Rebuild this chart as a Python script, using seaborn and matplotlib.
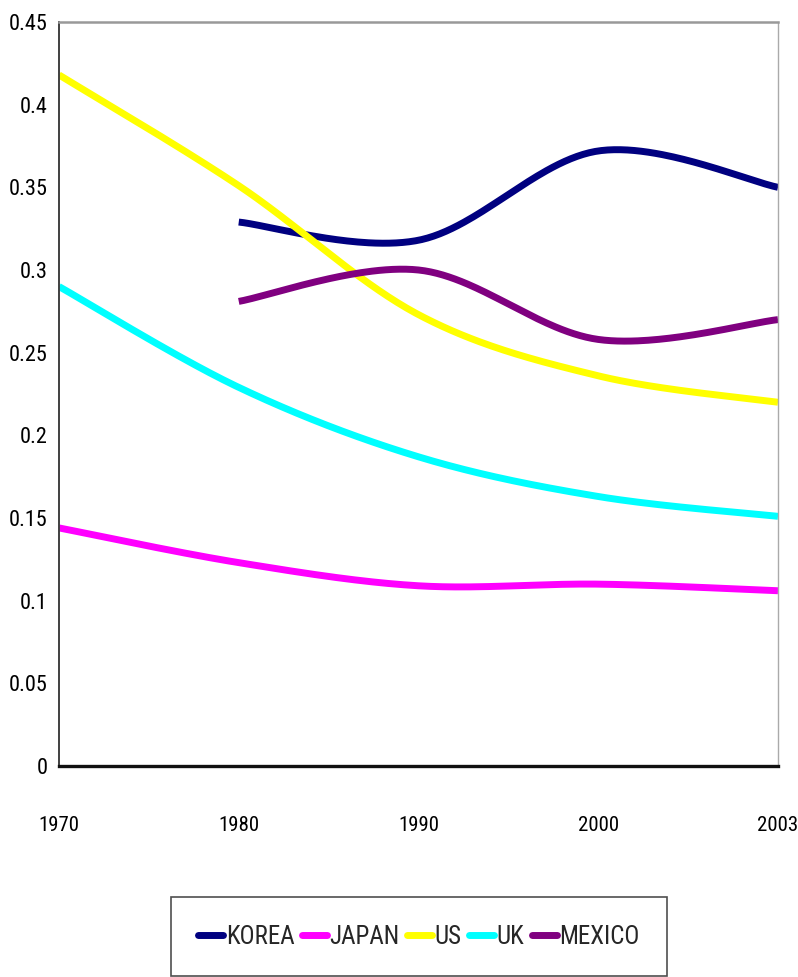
import numpy as np
import pandas as pd
import matplotlib
matplotlib.use("Agg")
import matplotlib.pyplot as plt
from matplotlib import font_manager
import seaborn as sns

# Category axis (evenly spaced, as in the original workbook chart)
years = ["1970", "1980", "1990", "2000", "2003"]

korea = [np.nan, 0.329, 0.318, 0.372, 0.350]
japan = [0.144, 0.123, 0.109, 0.110, 0.106]
us = [0.418, 0.351, 0.273, 0.236, 0.220]
uk = [0.290, 0.229, 0.187, 0.163, 0.151]
mexico = [np.nan, 0.281, 0.300, 0.258, 0.270]

series_names = ["KOREA", "JAPAN", "US", "UK", "MEXICO"]
series_values = [korea, japan, us, uk, mexico]
colors = ["#000080", "#FF00FF", "#FFFF00", "#00FFFF", "#800080"]

yticks = [0, 0.05, 0.1, 0.15, 0.2, 0.25, 0.3, 0.35, 0.4, 0.45]
ytick_labels = ["0", "0.05", "0.1", "0.15", "0.2", "0.25", "0.3", "0.35", "0.4", "0.45"]


def smooth_curve(xs, ys, steps=60):
    """Bezier smoothing through every point (spreadsheet 'smoothed line' style)."""
    xs = np.asarray(xs, float)
    ys = np.asarray(ys, float)
    n = len(xs)
    if n < 2:
        return xs, ys
    px = np.concatenate([[xs[0]], xs, [xs[-1]]])
    py = np.concatenate([[ys[0]], ys, [ys[-1]]])
    out_x, out_y = [], []
    t = np.linspace(0, 1, steps)
    for i in range(n - 1):
        p0 = np.array([px[i + 1], py[i + 1]])
        p3 = np.array([px[i + 2], py[i + 2]])
        c1 = p0 + (np.array([px[i + 2], py[i + 2]]) - np.array([px[i], py[i]])) / 6
        c2 = p3 - (np.array([px[i + 3], py[i + 3]]) - np.array([px[i + 1], py[i + 1]])) / 6
        b = ((1 - t) ** 3)[:, None] * p0 + (3 * (1 - t) ** 2 * t)[:, None] * c1 \
            + (3 * (1 - t) * t ** 2)[:, None] * c2 + (t ** 3)[:, None] * p3
        if i > 0:
            b = b[1:]
        out_x.extend(b[:, 0])
        out_y.extend(b[:, 1])
    return np.array(out_x), np.array(out_y)


rows = []
for name, vals in zip(series_names, series_values):
    idx = np.arange(len(years), dtype=float)
    vals = np.asarray(vals, float)
    ok = ~np.isnan(vals)
    sx, sy = smooth_curve(idx[ok], vals[ok])
    for order, (a, b) in enumerate(zip(sx, sy)):
        rows.append({"country": name, "x": a, "share": b, "order": order})
df = pd.DataFrame(rows)

sns.set_theme(style="white")

# Prefer a narrow face for the labels
installed = {f.name for f in font_manager.fontManager.ttflist}
narrow = [n for n in ["Liberation Sans Narrow", "Arial Narrow", "Roboto Condensed",
                      "Open Sans Condensed", "DejaVu Sans"] if n in installed]
plt.rcParams["font.family"] = narrow + ["DejaVu Sans"]
plt.rcParams["font.stretch"] = "condensed"

fig = plt.figure(figsize=(7.98, 9.77), dpi=100)
ax = fig.add_axes([59 / 798, 1 - 766 / 977, (778 - 59) / 798, (766 - 22) / 977])

sns.lineplot(data=df, x="x", y="share", hue="country", hue_order=series_names,
             palette=colors, sort=False, estimator=None, units="country",
             linewidth=5, ax=ax, legend=False, solid_capstyle="butt")

ax.set_xlim(0, len(years) - 1)
ax.set_ylim(0, 0.45)
ax.set_xticks(range(len(years)))
ax.set_xticklabels(years)
ax.set_yticks(yticks)
ax.set_yticklabels(ytick_labels)
ax.set_xlabel("")
ax.set_ylabel("")

ax.tick_params(axis="x", direction="in", length=10, width=1, color="#222222",
               pad=36, labelsize=15, labelcolor="black")
ax.tick_params(axis="y", direction="in", length=4, width=1.2, color="#333333",
               pad=8, labelsize=16, labelcolor="black")

ax.spines["left"].set_color("#404040")
ax.spines["left"].set_linewidth(1.4)
ax.spines["bottom"].set_color("#111111")
ax.spines["bottom"].set_linewidth(2.4)
ax.spines["top"].set_color("#999999")
ax.spines["top"].set_linewidth(1.8)
ax.spines["right"].set_color("#aaaaaa")
ax.spines["right"].set_linewidth(1.0)
for s in ax.spines.values():
    s.set_visible(True)

handles = [plt.Line2D([], [], color=c, lw=5, solid_capstyle="round") for c in colors]
leg = fig.legend(handles, series_names, loc="upper center",
                 bbox_to_anchor=(419 / 798, 1 - 897 / 977), ncol=5,
                 frameon=True, fancybox=False, fontsize=18,
                 handlelength=1.0, handletextpad=0.1, columnspacing=0.3,
                 borderpad=1.1, borderaxespad=0)
leg.get_frame().set_edgecolor("#222222")
leg.get_frame().set_linewidth(1.2)

fig.savefig("out.png", dpi=100)
